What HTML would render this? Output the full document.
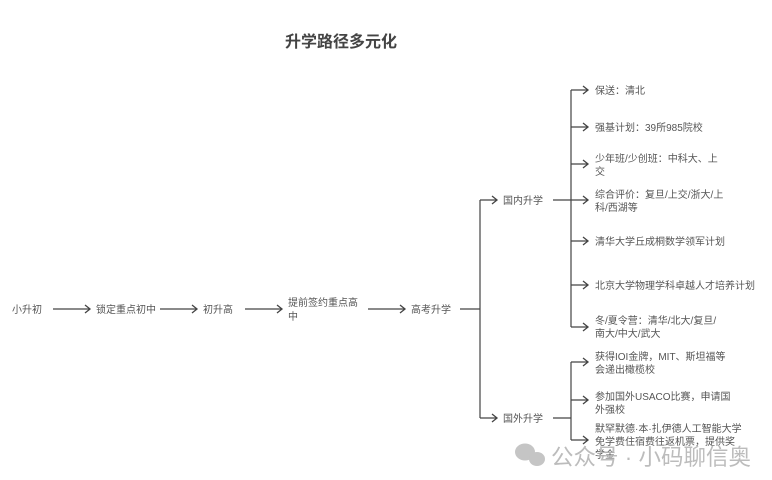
<!DOCTYPE html>
<html><head><meta charset="utf-8"><style>
html,body{margin:0;padding:0;background:#fff;}
svg{display:block;font-family:"Liberation Sans","Noto Sans CJK SC",sans-serif;}
.t{font-size:10px;fill:#555;}
</style></head><body>
<svg width="772" height="480" viewBox="0 0 772 480" xmlns="http://www.w3.org/2000/svg">
<defs><marker id="a" markerWidth="8" markerHeight="10" refX="6" refY="5" orient="auto" markerUnits="userSpaceOnUse"><path d="M1,1 L6,5 L1,9" fill="none" stroke="#444" stroke-width="1.3"/></marker></defs>
<text x="341" y="47" text-anchor="middle" font-size="16" font-weight="bold" fill="#444">升学路径多元化</text>
<g stroke="#444" stroke-width="1.2" fill="none">
<line x1="53" y1="309" x2="90" y2="309" marker-end="url(#a)"/>
<line x1="160" y1="309" x2="197" y2="309" marker-end="url(#a)"/>
<line x1="245" y1="309" x2="282" y2="309" marker-end="url(#a)"/>
<line x1="368" y1="309" x2="405" y2="309" marker-end="url(#a)"/>
<line x1="460" y1="309" x2="480" y2="309"/>
<line x1="480" y1="200" x2="480" y2="418"/>
<line x1="480" y1="200" x2="497" y2="200" marker-end="url(#a)"/>
<line x1="480" y1="418" x2="497" y2="418" marker-end="url(#a)"/>
<line x1="553" y1="200" x2="571" y2="200"/>
<line x1="571" y1="90" x2="571" y2="327"/>
<line x1="571" y1="90" x2="588" y2="90" marker-end="url(#a)"/>
<line x1="571" y1="127" x2="588" y2="127" marker-end="url(#a)"/>
<line x1="571" y1="164" x2="588" y2="164" marker-end="url(#a)"/>
<line x1="571" y1="200" x2="588" y2="200" marker-end="url(#a)"/>
<line x1="571" y1="241" x2="588" y2="241" marker-end="url(#a)"/>
<line x1="571" y1="285" x2="588" y2="285" marker-end="url(#a)"/>
<line x1="571" y1="327" x2="588" y2="327" marker-end="url(#a)"/>
<line x1="553" y1="418" x2="571" y2="418"/>
<line x1="571" y1="362" x2="571" y2="440"/>
<line x1="571" y1="362" x2="588" y2="362" marker-end="url(#a)"/>
<line x1="571" y1="400" x2="588" y2="400" marker-end="url(#a)"/>
<line x1="571" y1="440" x2="588" y2="440" marker-end="url(#a)"/>
</g>
<text class="t" x="12" y="313">小升初</text>
<text class="t" x="96" y="313">锁定重点初中</text>
<text class="t" x="203" y="313">初升高</text>
<text class="t" x="288" y="306">提前签约重点高</text>
<text class="t" x="288" y="320">中</text>
<text class="t" x="411" y="313">高考升学</text>
<text class="t" x="503" y="204">国内升学</text>
<text class="t" x="503" y="422">国外升学</text>
<text class="t" x="595" y="94">保送：清北</text>
<text class="t" x="595" y="131">强基计划：39所985院校</text>
<text class="t" x="595" y="162">少年班/少创班：中科大、上</text>
<text class="t" x="595" y="175">交</text>
<text class="t" x="595" y="198">综合评价：复旦/上交/浙大/上</text>
<text class="t" x="595" y="211">科/西湖等</text>
<text class="t" x="595" y="245">清华大学丘成桐数学领军计划</text>
<text class="t" x="595" y="289">北京大学物理学科卓越人才培养计划</text>
<text class="t" x="595" y="324">冬/夏令营：清华/北大/复旦/</text>
<text class="t" x="595" y="337">南大/中大/武大</text>
<text class="t" x="595" y="360">获得IOI金牌，MIT、斯坦福等</text>
<text class="t" x="595" y="373">会递出橄榄校</text>
<text class="t" x="595" y="400">参加国外USACO比赛，申请国</text>
<text class="t" x="595" y="413">外强校</text>
<text class="t" x="595" y="432">默罕默德·本·扎伊德人工智能大学</text>
<text class="t" x="595" y="445">免学费住宿费往返机票，提供奖</text>
<text class="t" x="595" y="458">学金</text>
<g fill="#bbb" opacity="0.85">
<ellipse cx="525" cy="452" rx="10" ry="8.5"/>
<ellipse cx="537" cy="459" rx="8" ry="7"/>
</g>
<text x="551" y="465" font-size="22.5" fill="#b5b5b5" opacity="0.9">公众号 · 小码聊信奥</text>
</svg>
</body></html>
